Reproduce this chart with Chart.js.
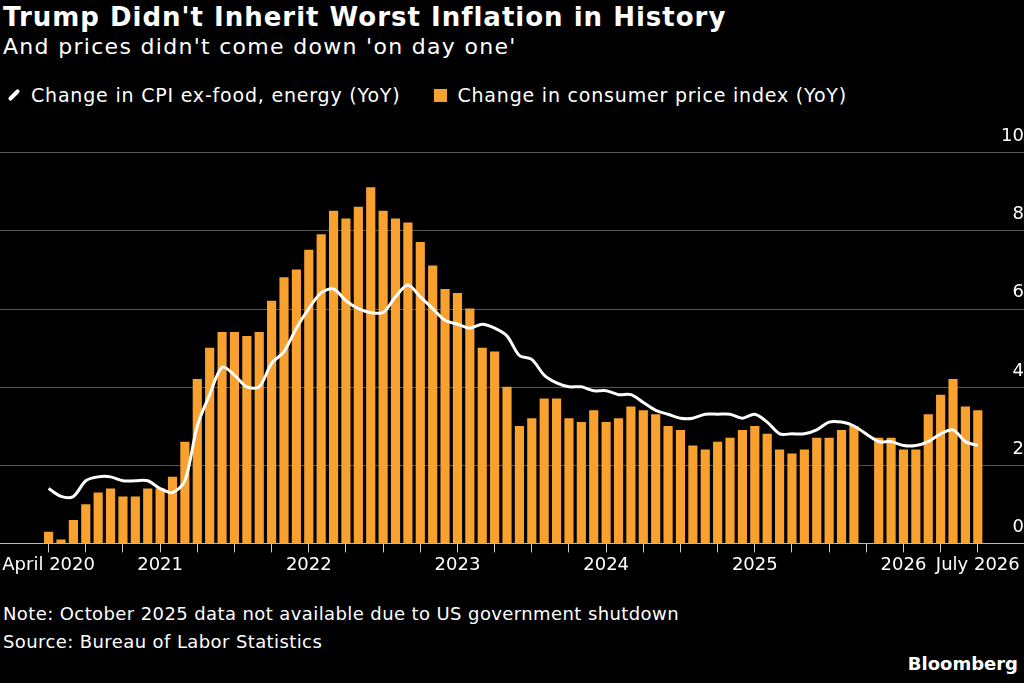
<!DOCTYPE html>
<html>
<head>
<meta charset="utf-8">
<script src="https://cdn.jsdelivr.net/npm/chart.js@4"></script>
<style>
  body { margin: 0; background: #000; width: 1024px; height: 683px; overflow: hidden; font-family: "DejaVu Sans", sans-serif; color: #fff; position: relative; }
  .title { position: absolute; left: 3px; top: 2px; font-size: 26px; font-weight: bold; letter-spacing: 1px; }
  .sub { position: absolute; left: 3px; top: 34px; font-size: 22px; letter-spacing: 1.3px; }
  .legend { position: absolute; left: 4px; top: 84px; font-size: 19px; letter-spacing: 0.8px; display: flex; align-items: center; }
  .swl { width: 14px; height: 4px; background: #fff; transform: rotate(-45deg); margin: 0 10px 0 3px; border-radius: 2px; }
  .swb { width: 13px; height: 13px; background: #f9a12e; margin: 0 10px 0 34px; }
  .note { position: absolute; left: 3px; top: 600px; font-size: 18px; letter-spacing: 0.4px; line-height: 28px; }
  .brand { position: absolute; right: 6px; top: 653px; font-size: 18px; font-weight: bold; }
  #wrap { position: absolute; left: 0; top: 120px; width: 1024px; height: 458px; }
</style>
</head>
<body>
<div class="title">Trump Didn't Inherit Worst Inflation in History</div>
<div class="sub">And prices didn't come down 'on day one'</div>
<div class="legend"><span class="swl"></span>Change in CPI ex-food, energy (YoY)<span class="swb"></span>Change in consumer price index (YoY)</div>
<div id="wrap"><canvas id="c"></canvas></div>
<div class="note">Note: October 2025 data not available due to US government shutdown<br>Source: Bureau of Labor Statistics</div>
<div class="brand">Bloomberg</div>
<script>
// months April 2020 .. July 2026
const months = [];
for (let y = 2020; y <= 2026; y++) {
    for (let m = 1; m <= 12; m++) {
        if (y === 2020 && m < 4) continue;
        if (y === 2026 && m > 7) break;
        months.push(y + '-' + String(m).padStart(2, '0'));
    }
}

const cpi = [
    0.3, 0.1, 0.6, 1.0, 1.3, 1.4, 1.2, 1.2, 1.4,
    1.4, 1.7, 2.6, 4.2, 5.0, 5.4, 5.4, 5.3, 5.4, 6.2, 6.8, 7.0,
    7.5, 7.9, 8.5, 8.3, 8.6, 9.1, 8.5, 8.3, 8.2, 7.7, 7.1, 6.5,
    6.4, 6.0, 5.0, 4.9, 4.0, 3.0, 3.2, 3.7, 3.7, 3.2, 3.1, 3.4,
    3.1, 3.2, 3.5, 3.4, 3.3, 3.0, 2.9, 2.5, 2.4, 2.6, 2.7, 2.9,
    3.0, 2.8, 2.4, 2.3, 2.4, 2.7, 2.7, 2.9, 3.0, null, 2.7, 2.7,
    2.4, 2.4, 3.3, 3.8, 4.2, 3.5, 3.4
];

const core = [
    1.4, 1.2, 1.2, 1.6, 1.7, 1.7, 1.6, 1.6, 1.6,
    1.4, 1.3, 1.6, 3.0, 3.8, 4.5, 4.3, 4.0, 4.0, 4.6, 4.9, 5.5,
    6.0, 6.4, 6.5, 6.2, 6.0, 5.9, 5.9, 6.3, 6.6, 6.3, 6.0, 5.7,
    5.6, 5.5, 5.6, 5.5, 5.3, 4.8, 4.7, 4.3, 4.1, 4.0, 4.0, 3.9,
    3.9, 3.8, 3.8, 3.6, 3.4, 3.3, 3.2, 3.2, 3.3, 3.3, 3.3, 3.2,
    3.3, 3.1, 2.8, 2.8, 2.8, 2.9, 3.1, 3.1, 3.0, null, 2.6, 2.6,
    2.5, 2.5, 2.6, 2.8, 2.9, 2.6, 2.5
];

const yTicks = [0, 2, 4, 6, 8, 10];

function xLabel(i) {
    const [y, m] = months[i].split('-');
    if (i === 0) return 'April ' + y;
    if (i === months.length - 1) return 'July ' + y;
    if (m === '01') return y;
    return '';
}

// horizontal gridlines across the whole width
const fullGrid = {
    id: 'fullGrid',
    beforeDatasetsDraw(chart) {
        const ctx = chart.ctx, ys = chart.scales.y;
        ctx.save();
        yTicks.forEach(v => {
            const py = Math.round(ys.getPixelForValue(v)) + 0.5;
            ctx.strokeStyle = v === 0 ? '#bbbbbb' : '#555555';
            ctx.lineWidth = 1;
            ctx.beginPath();
            ctx.moveTo(0, py);
            ctx.lineTo(chart.width, py);
            ctx.stroke();
        });
        ctx.restore();
    }
};

new Chart(document.getElementById('c'), {
    type: 'bar',
    data: {
        labels: months,
        datasets: [
            {
                type: 'line', data: core, borderColor: '#ffffff', borderWidth: 3,
                pointRadius: 0, spanGaps: true, tension: 0.3, order: 0
            },
            {
                data: cpi, backgroundColor: '#f9a12e',
                barPercentage: 0.74, categoryPercentage: 1, order: 1
            }
        ]
    },
    plugins: [fullGrid],
    options: {
        responsive: true,
        maintainAspectRatio: false,
        animation: false,
        layout: { padding: { left: 42, top: 32, right: 0, bottom: 0 } },
        plugins: { legend: { display: false }, tooltip: { enabled: false } },
        scales: {
            x: {
                border: { display: false },
                grid: {
                    drawOnChartArea: false, offset: false, tickLength: 9,
                    color: ctx => (ctx.index % 3 === 0 ? '#cccccc' : 'transparent')
                },
                ticks: {
                    autoSkip: false, maxRotation: 0, color: '#ffffff', padding: 2,
                    font: { family: 'DejaVu Sans', size: 18 },
                    callback: (v, i) => xLabel(i)
                }
            },
            y: {
                position: 'right', min: 0, max: 10,
                border: { display: false },
                grid: { display: false },
                afterFit: s => { s.width = 40; },
                afterBuildTicks: s => { s.ticks = yTicks.map(v => ({ value: v })); },
                ticks: {
                    color: '#ffffff', crossAlign: 'far', labelOffset: -16, padding: 0,
                    font: { family: 'DejaVu Sans', size: 18 }
                }
            }
        }
    }
});
</script>
</body>
</html>
